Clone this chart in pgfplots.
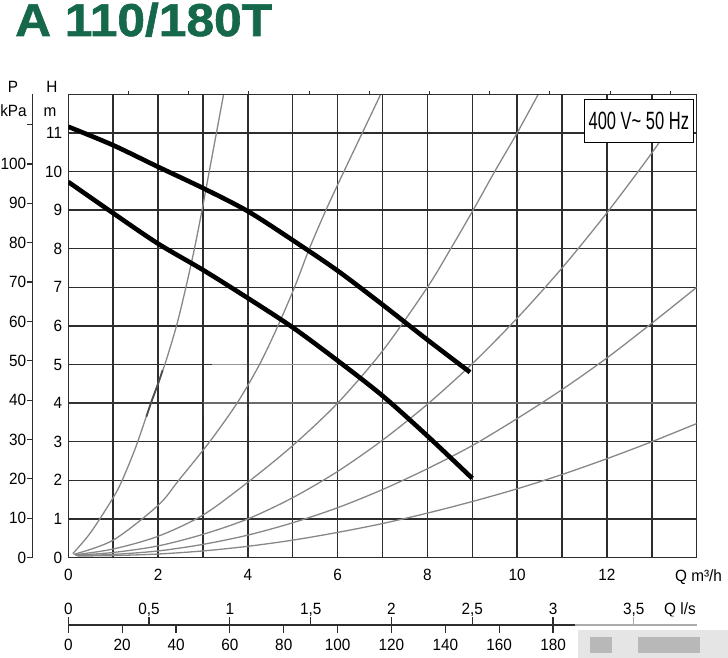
\documentclass[border=0pt]{standalone}
\usepackage{pgfplots}
\pgfplotsset{compat=1.18}
\usepackage{fontspec}
\setmainfont{Liberation Sans}[FakeStretch=0.94]
\newfontfamily\condfont{Liberation Sans}[FakeStretch=0.66]
\newfontfamily\titlefont{Liberation Sans Bold}[FakeStretch=1.08, FakeBold=1.3]
\definecolor{titlegreen}{RGB}{22,104,74}
\definecolor{gridc}{RGB}{45,45,45}
\definecolor{sysc}{RGB}{135,135,135}
\pgfplotsset{
  every outer x axis line/.append style={-},
  every outer y axis line/.append style={-},
  every inner x axis line/.append style={-},
  every inner y axis line/.append style={-},
  x axis line style={-},
  y axis line style={-},
}
\begin{document}
\begin{tikzpicture}
\useasboundingbox (0pt,0pt) rectangle (728pt,-658pt);
% title
\node[anchor=base west, inner sep=0, text=titlegreen, font=\titlefont\fontsize{46}{50}\selectfont] at (15pt,-36pt) {A 110/180T};
% axis name labels
\node[anchor=base, inner sep=0, font=\fontsize{16.3}{18}\selectfont] at (13pt,-93pt) {P};
\node[anchor=base, inner sep=0, font=\fontsize{16.3}{18}\selectfont] at (13.5pt,-117pt) {kPa};
\node[anchor=base, inner sep=0, font=\fontsize{16.3}{18}\selectfont] at (52pt,-93pt) {H};
\node[anchor=base, inner sep=0, font=\fontsize{16.3}{18}\selectfont] at (50pt,-117pt) {m};
\node[anchor=base west, inner sep=0, font=\fontsize{16.3}{18}\selectfont] at (675pt,-581pt) {Q m³/h};
\node[anchor=base west, inner sep=0, font=\fontsize{16.3}{18}\selectfont] at (664pt,-614pt) {Q l/s};

% main axis
\begin{axis}[
  at={(68.3pt,-557.5pt)}, anchor=south west, scale only axis,
  width=628.4pt, height=463.2pt,
  xmin=0, xmax=14, ymin=0, ymax=12,
  xtick={0,2,...,12}, minor xtick={1,3,...,13}, ytick={0,1,...,11},
  grid=both,
  major grid style={gridc, line width=1.4pt},
  minor grid style={gridc, line width=1.4pt},
  major tick length=0pt, minor tick length=0pt,
  axis line style={gridc, line width=1.4pt},
  tick label style={font=\fontsize{16.3}{18}\selectfont},
  /pgf/number format/assume math mode=true,
  xticklabel style={inner sep=0pt, yshift=-11.5pt},
  yticklabel style={inner sep=0pt, xshift=-6pt},
]
% faded grid segments
\addplot[white, opacity=0.3, line width=1.8pt] coordinates {(3,4) (14,4)};
\addplot[white, opacity=0.5, line width=1.8pt] coordinates {(3.2,5) (6,5)};
% dark remnants
\addplot[black!80, line width=1.8pt] coordinates {(0,4) (3,4)};
\addplot[black!80, line width=1.6pt] coordinates {(3,3.65) (3,4)};
\addplot[black!80, line width=1.6pt] coordinates {(4,3.65) (4,5.05)};
\addplot[black!80, line width=1.6pt] coordinates {(8,4.0) (8,5.0)};
% system curves
\addplot[sysc, line width=1.3pt, smooth] coordinates {
(0.1,0.1) (0.5,0.65) (1,1.55) (1.2,2.0) (1.5,2.85) (1.84,4) (2.15,5) (2.41,6) (2.62,7) (2.81,8) (2.98,9) (3.14,10) (3.3,11) (3.46,12)};
\addplot[black!70, line width=1.8pt, smooth] coordinates {(1.74,3.65) (1.84,4) (2.0,4.5) (2.1,4.85)};
\addplot[sysc, line width=1.3pt, smooth] coordinates {
(0.12,0.08) (1,0.45) (2,1.35) (2.46,2) (3.15,3) (3.76,4) (4.26,5) (4.67,6) (5.04,7) (5.37,8) (5.74,9) (6.14,10) (6.55,11) (6.96,12)};
\addplot[sysc, line width=1.3pt, smooth] coordinates {
(0.14,0.07) (1,0.22) (2,0.55) (3,1.1) (4,1.95) (5,2.9) (6,4.0) (7,5.35) (8,7.0) (8.52,8) (9.02,9) (9.5,10) (10,11) (10.47,12)};
\addplot[sysc, line width=1.3pt, smooth] coordinates {
(0.16,0.06) (1,0.13) (2,0.3) (3,0.6) (4,1.0) (5,1.55) (6,2.23) (7,3.04) (8,3.97) (9,5.02) (10,6.2) (11,7.5) (12,8.93) (13,10.48) (13.6,11.5)};
\addplot[sysc, line width=1.3pt, smooth] coordinates {
(0.18,0.05) (1,0.08) (2,0.17) (3,0.34) (4,0.58) (5,0.9) (6,1.29) (7,1.76) (8,2.3) (9,2.9) (10,3.6) (11,4.35) (12,5.17) (13,6.07) (14,7.0)};
\addplot[sysc, line width=1.3pt, smooth] coordinates {
(0.2,0.04) (1,0.05) (2,0.09) (3,0.17) (4,0.29) (5,0.45) (6,0.65) (7,0.88) (8,1.15) (9,1.45) (10,1.78) (11,2.15) (12,2.56) (13,3.0) (14,3.47)};
% pump curves
\addplot[black, line width=4.6pt, smooth] coordinates {
(0,11.16) (1,10.68) (2,10.12) (3,9.57) (4,8.97) (5,8.22) (6,7.43) (7,6.55) (8,5.64) (8.95,4.8)};
\addplot[black, line width=4.6pt, smooth] coordinates {
(0,9.73) (1,8.92) (2,8.13) (3,7.45) (4,6.72) (5,5.96) (6,5.1) (7,4.19) (8,3.15) (9,2.05)};
\node[draw=black, line width=1.2pt, fill=white, inner sep=0pt, minimum width=109pt, minimum height=43.4pt, font=\condfont\fontsize{25}{28}\selectfont] at (axis cs:12.71,11.31) {400 V\textasciitilde{} 50 Hz};
\end{axis}

% top small ticks
\begin{axis}[
  at={(68.3pt,-94.3pt)}, anchor=south west, scale only axis,
  width=628.4pt, height=5pt,
  xmin=0, xmax=14, ymin=0, ymax=1,
  axis x line=bottom, axis y line=none,
  axis line style={-, gridc, line width=1.4pt},
  xtick={1.341,2.682,4.023,5.364,6.705,8.046,9.387,10.728,12.069,13.41},
  xticklabels={}, tick align=inside, major tick length=3pt,
  tick style={gridc, line width=1pt},
]
\addplot[draw=none] coordinates {(0,0) (1,1)};
\end{axis}

% P axis
\begin{axis}[
  at={(32.3pt,-557.5pt)}, anchor=south west, scale only axis,
  width=10pt, height=463.2pt,
  xmin=0, xmax=1, ymin=0, ymax=117.72,
  axis y line=left, axis x line=none,
  axis line style={-, gridc, line width=1.2pt},
  ytick={0,10,...,110},
  yticklabels={0,10,20,30,40,50,60,70,80,90,100,{}},
  tick align=outside, major tick length=5pt,
  tick style={gridc, line width=1.2pt},
  yticklabel style={font=\fontsize{16.3}{18}\selectfont, inner sep=0pt, xshift=-1pt},
]
\addplot[draw=none] coordinates {(0,0) (1,1)};
\end{axis}

% l/s scale
\begin{axis}[
  at={(68.3pt,-625pt)}, anchor=north west, scale only axis,
  width=628.4pt, height=5pt,
  xmin=0, xmax=3.8889, ymin=0, ymax=1,
  axis x line=top, axis y line=none,
  axis line style={-, gridc, line width=1.2pt},
  xtick={0,0.5,...,3.5},
  xticklabels={0,{0,5},1,{1,5},2,{2,5},3,{3,5}},
  tick align=outside, major tick length=8pt,
  tick style={gridc, line width=1.2pt},
  xticklabel style={font=\fontsize{16.3}{18}\selectfont, inner sep=0pt, anchor=base, yshift=3pt},
]
\addplot[draw=none] coordinates {(0,0) (1,1)};
\end{axis}

% l/min scale
\begin{axis}[
  at={(68.3pt,-625pt)}, anchor=south west, scale only axis,
  width=628.4pt, height=5pt,
  xmin=0, xmax=233.33, ymin=0, ymax=1,
  axis x line=bottom, axis y line=none,
  axis line style={-, gridc, line width=1.2pt},
  xtick={0,20,...,180},
  tick align=outside, major tick length=8pt,
  tick style={gridc, line width=1.2pt},
  /pgf/number format/assume math mode=true,
  xticklabel style={font=\fontsize{16.3}{18}\selectfont, inner sep=0pt, yshift=-6pt},
]
\addplot[draw=none] coordinates {(0,0) (1,1)};
\end{axis}

% blurred watermark
\fill[white, opacity=0.6] (575pt,-616pt) rectangle (728pt,-658pt);
\fill[black!10] (578pt,-630pt) rectangle (728pt,-658pt);
\fill[black!28] (590pt,-637pt) rectangle (612pt,-653pt);
\fill[black!28] (638pt,-637pt) rectangle (700pt,-653pt);
\end{tikzpicture}
\end{document}
